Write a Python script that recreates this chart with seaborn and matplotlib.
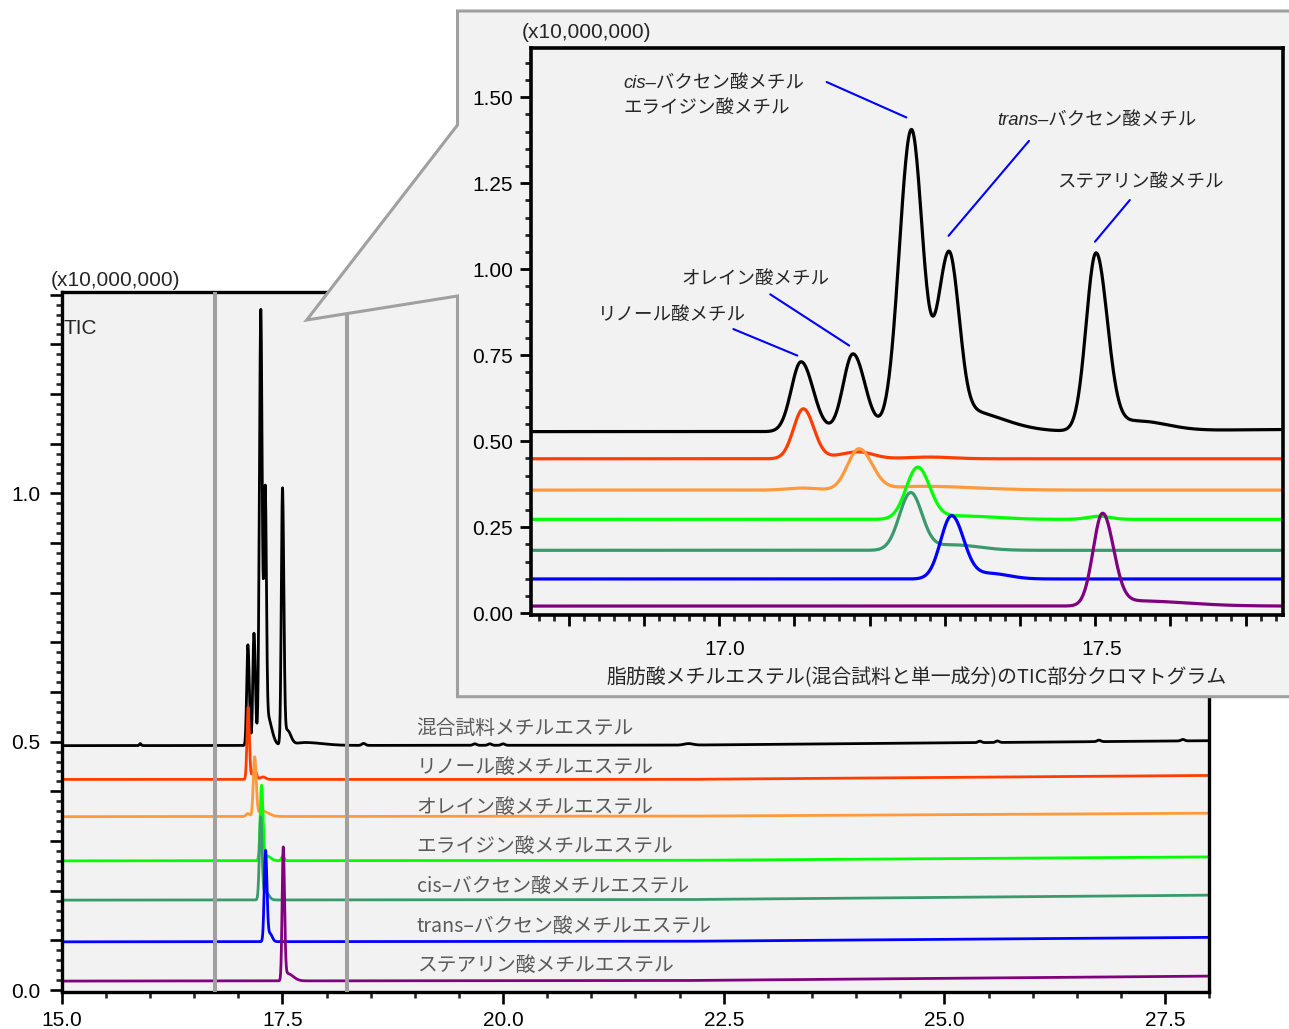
import numpy as np
import pandas as pd
import matplotlib
matplotlib.use("Agg")
import matplotlib.pyplot as plt
import seaborn as sns
from matplotlib.patches import Polygon
from matplotlib.ticker import MultipleLocator, FuncFormatter
from matplotlib.transforms import ScaledTranslation

sns.set_style("ticks")
plt.rcParams["font.family"] = ["Liberation Sans", "Noto Sans CJK JP"]

# ------------------------------------------------------------------ data
trace_names = ["混合試料メチルエステル", "リノール酸メチルエステル", "オレイン酸メチルエステル",
               "エライジン酸メチルエステル", "cis–バクセン酸メチルエステル",
               "trans–バクセン酸メチルエステル", "ステアリン酸メチルエステル"]
trace_colors = ["#000000", "#ff3d00", "#ff9a3c", "#00ff00", "#3a9a6c", "#0000ff", "#800080"]

# peak tables: retention time [min], height [x10,000,000], left / right width [min]
tic_rt = [15.89, 17.109, 17.178, 17.2556, 17.305, 17.325, 17.501, 17.555, 17.75, 18.42, 19.68, 19.85, 20.0, 22.1, 25.4, 25.6, 26.75, 27.7]
tic_h  = [0.004, 0.203, 0.226, 0.876, 0.505, 0.062, 0.510, 0.030, 0.006, 0.004, 0.003, 0.003, 0.003, 0.003, 0.003, 0.003, 0.003, 0.003]
tic_wl = [0.010, 0.013, 0.013, 0.016, 0.015, 0.012, 0.013, 0.035, 0.10, 0.02, 0.02, 0.02, 0.02, 0.05, 0.02, 0.02, 0.02, 0.02]
tic_wr = [0.010, 0.016, 0.016, 0.015, 0.013, 0.050, 0.015, 0.040, 0.20, 0.02, 0.02, 0.02, 0.02, 0.05, 0.02, 0.02, 0.02, 0.02]

lin_rt = [17.112, 17.185, 17.280]
lin_h  = [0.145, 0.020, 0.005]
lin_wl = [0.013, 0.025, 0.030]
lin_wr = [0.014, 0.020, 0.030]

ole_rt = [17.110, 17.186, 17.270]
ole_h  = [0.006, 0.119, 0.011]
ole_wl = [0.020, 0.0153, 0.040]
ole_wr = [0.020, 0.0175, 0.070]

ela_rt = [17.264, 17.320, 17.505]
ela_h  = [0.150, 0.010, 0.009]
ela_wl = [0.0153, 0.030, 0.015]
ela_wr = [0.016, 0.045, 0.015]

cis_rt = [17.2546, 17.310]
cis_h  = [0.165, 0.016]
cis_wl = [0.015, 0.030]
cis_wr = [0.015, 0.035]

tra_rt = [17.309, 17.360]
tra_h  = [0.182, 0.016]
tra_wl = [0.0145, 0.025]
tra_wr = [0.016, 0.025]

ste_rt = [17.5097, 17.555]
ste_h  = [0.265, 0.015]
ste_wl = [0.0125, 0.030]
ste_wr = [0.0145, 0.065]

peak_tables = [(tic_rt, tic_h, tic_wl, tic_wr), (lin_rt, lin_h, lin_wl, lin_wr),
               (ole_rt, ole_h, ole_wl, ole_wr), (ela_rt, ela_h, ela_wl, ela_wr),
               (cis_rt, cis_h, cis_wl, cis_wr), (tra_rt, tra_h, tra_wl, tra_wr),
               (ste_rt, ste_h, ste_wl, ste_wr)]

# baselines of the stacked traces in the full chromatogram (read at 15, 22, 28 min)
base_times = [15.0, 22.0, 28.0]
main_base = [[0.492, 0.493, 0.502],
             [0.424, 0.424, 0.432],
             [0.349, 0.350, 0.356],
             [0.260, 0.261, 0.268],
             [0.181, 0.182, 0.191],
             [0.097, 0.098, 0.106],
             [0.018, 0.019, 0.028]]
# baselines in the enlarged partial chromatogram
inset_base = [0.528, 0.449, 0.358, 0.273, 0.183, 0.0997, 0.021]

# ------------------------------------------------------------------ build traces
def peaks(t, rts, hts, wl, wr):
    y = np.zeros_like(t)
    for c, h, a, b in zip(rts, hts, wl, wr):
        w = np.where(t < c, a, b)
        y += h * np.exp(-0.5 * ((t - c) / w) ** 2)
    return y

t_main = np.arange(15.0, 28.0001, 0.002)
t_in = np.arange(16.75, 17.7501, 0.001)
rows_main, rows_in = [], []
for name, tab, mb, ib in zip(trace_names, peak_tables, main_base, inset_base):
    sig_m = np.interp(t_main, base_times, mb) + peaks(t_main, *tab)
    sig_i = ib + peaks(t_in, *tab)
    rows_main.append(pd.DataFrame({"time": t_main, "signal": sig_m, "trace": name}))
    rows_in.append(pd.DataFrame({"time": t_in, "signal": sig_i, "trace": name}))
df_main = pd.concat(rows_main, ignore_index=True)
df_in = pd.concat(rows_in, ignore_index=True)
palette = dict(zip(trace_names, trace_colors))

# ------------------------------------------------------------------ figure
W, H = 1289, 1029
fig = plt.figure(figsize=(W / 100, H / 100), dpi=100)
fig.patch.set_facecolor("white")

def box(l, t, r, b):
    return [l / W, 1 - b / H, (r - l) / W, (b - t) / H]

PANEL = "#f2f2f2"
GRAY = "#a0a0a0"

# main chromatogram
ax = fig.add_axes(box(61.7, 291.7, 1209.3, 991.5))
ax.set_facecolor(PANEL)
sns.lineplot(data=df_main, x="time", y="signal", hue="trace", hue_order=trace_names,
             palette=palette, linewidth=2.0, legend=False, estimator=None, ax=ax)
ax.set_xlim(15.0, 28.0)
ax.set_ylim(-0.003, 1.406)
ax.set_xlabel("")
ax.set_ylabel("")
ax.xaxis.set_major_locator(MultipleLocator(2.5))
ax.xaxis.set_minor_locator(MultipleLocator(0.5))
ax.xaxis.set_major_formatter(FuncFormatter(lambda v, p: f"{v:.1f}"))
ax.yaxis.set_major_locator(MultipleLocator(0.1))
ax.yaxis.set_minor_locator(MultipleLocator(0.02))
ax.yaxis.set_major_formatter(FuncFormatter(
    lambda v, p: f"{v:.1f}" if abs(v * 2 - round(v * 2)) < 1e-6 else ""))
ax.tick_params(which="major", direction="out", length=8.3, width=1.9, labelsize=15,
               color="black", labelcolor="black")
ax.tick_params(axis="x", which="major", pad=6)
ax.tick_params(axis="y", which="major", pad=7)
ax.tick_params(which="minor", direction="out", length=4.0, width=1.9)
for s in ax.spines.values():
    s.set_linewidth(2.4)
    s.set_color("black")
ax.axvline(16.737, color=GRAY, lw=2.9, zorder=3)
ax.axvline(18.229, color=GRAY, lw=2.9, zorder=3)

fig.text(50.7 / W, 1 - 280 / H, "(x10,000,000)", ha="left", va="center", fontsize=15)
fig.text(63.3 / W, 1 - 328 / H, "TIC", ha="left", va="center", fontsize=15)

label_y = [728, 768, 808, 847, 887, 927, 966]
for name, ly in zip(trace_names, label_y):
    fig.text(416.7 / W, 1 - ly / H, name, ha="left", va="center", fontsize=14.2,
             color="#5a5a5a", family=["Noto Sans CJK JP"])

# callout panel
pts = [(457.5, 125), (457.5, 11), (1300, 11), (1300, 696.7), (457.5, 696.7),
       (457.5, 296), (306.7, 320)]
poly = Polygon([(x / W, 1 - y / H) for x, y in pts], closed=True, facecolor=PANEL,
               edgecolor=GRAY, lw=2.2, transform=fig.transFigure, zorder=1)
fig.add_artist(poly)

# enlarged partial chromatogram
ax_in = fig.add_axes(box(531, 48.3, 1283.3, 615))
ax_in.set_zorder(2)
ax_in.set_facecolor(PANEL)
sns.lineplot(data=df_in, x="time", y="signal", hue="trace", hue_order=trace_names,
             palette=palette, linewidth=2.3, legend=False, estimator=None, ax=ax_in)
ax_in.set_xlim(16.75, 17.75)
ax_in.set_ylim(-0.005, 1.642)
ax_in.set_ylabel("")
ax_in.xaxis.set_major_locator(MultipleLocator(0.1))
ax_in.xaxis.set_minor_locator(MultipleLocator(0.02))
ax_in.xaxis.set_major_formatter(FuncFormatter(
    lambda v, p: f"{v:.1f}" if abs(v * 2 - round(v * 2)) < 1e-6 else ""))
ax_in.yaxis.set_major_locator(MultipleLocator(0.25))
ax_in.yaxis.set_minor_locator(MultipleLocator(0.05))
ax_in.yaxis.set_major_formatter(FuncFormatter(lambda v, p: f"{v:.2f}"))
ax_in.tick_params(which="major", direction="out", length=8.0, width=2.0, labelsize=15,
                  color="black", labelcolor="black")
ax_in.tick_params(axis="x", which="major", pad=10)
ax_in.tick_params(axis="y", which="major", pad=5)
ax_in.tick_params(which="minor", direction="out", length=4.2, width=2.0)
for s in ax_in.spines.values():
    s.set_linewidth(2.6)
    s.set_color("black")
ax_in.set_xlabel("脂肪酸メチルエステル(混合試料と単一成分)のTIC部分クロマトグラム",
                 fontsize=14.3, family=["Noto Sans CJK JP"])
ax_in.xaxis.set_label_coords(0.512, -0.111)
ax_in.xaxis.label.set_va("center")

fig.text(521.7 / W, 1 - 33 / H, "(x10,000,000)", ha="left", va="center", fontsize=15, zorder=5)

# peak annotations
ann_fs = 13.3
cjk = ["Noto Sans CJK JP"]
mix = ["Liberation Sans", "Noto Sans CJK JP"]
ax_in.text(16.873, 1.540, "cis–バクセン酸メチル", ha="left", va="center", fontsize=ann_fs,
           family=mix, style="italic")
ax_in.text(16.873, 1.469, "エライジン酸メチル", ha="left", va="center", fontsize=ann_fs, family=cjk)
ax_in.text(17.369, 1.431, "trans–バクセン酸メチル", ha="left", va="center", fontsize=ann_fs,
           family=mix, style="italic")
ax_in.text(17.449, 1.254, "ステアリン酸メチル", ha="left", va="center", fontsize=ann_fs, family=cjk)
ax_in.text(16.950, 0.971, "オレイン酸メチル", ha="left", va="center", fontsize=ann_fs, family=cjk)
ax_in.text(16.839, 0.867, "リノール酸メチル", ha="left", va="center", fontsize=ann_fs, family=cjk)

leaders = [((17.143, 1.544), (17.249, 1.441)),
           ((17.412, 1.373), (17.305, 1.097)),
           ((17.546, 1.201), (17.4997, 1.080)),
           ((17.068, 0.927), (17.173, 0.778)),
           ((17.019, 0.826), (17.104, 0.749))]
for start, end in leaders:
    ax_in.annotate("", xy=end, xytext=start,
                   arrowprops=dict(arrowstyle="-", color="#0000ff", lw=1.5,
                                   shrinkA=0, shrinkB=0))

fig.canvas.draw()
shift = ScaledTranslation(0.06, 0, fig.dpi_scale_trans)
for tk in ax_in.xaxis.get_major_ticks():
    tk.label1.set_transform(tk.label1.get_transform() + shift)

fig.savefig("out.png", dpi=100)
